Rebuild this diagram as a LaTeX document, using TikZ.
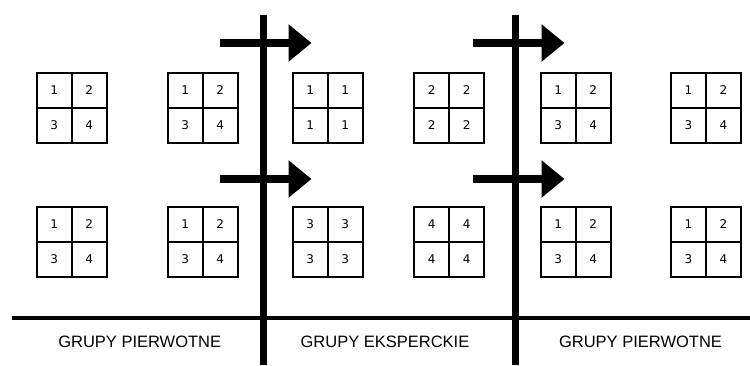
\documentclass[tikz,border=0pt]{standalone}
\usepackage{fontspec}
\setmainfont{Liberation Sans}
\newfontfamily\cyfry{DejaVu Sans}
\usepackage{tikz}
\usetikzlibrary{arrows.meta}

\tikzset{
  komorka/.style={draw, line width=2pt, minimum size=35pt, inner sep=0pt, font=\cyfry\fontsize{12}{12}\selectfont},
  slup/.style={line width=7pt},
  strzalka/.style={line width=8pt, -{Triangle[length=23pt,width=36pt]}},
  podpis/.style={font=\fontsize{16.5}{16.5}\selectfont}
}

\begin{document}
\begin{tikzpicture}[x=1pt,y=-1pt]
        \useasboundingbox (0,0) rectangle (750,365);

        % kwadraty z numerami
        \foreach \nazwa/\x/\y/\a/\b/\c/\d in {
                p1/36.7/72.7/1/2/3/4, p2/167.7/72.7/1/2/3/4,
                p3/36.7/206.7/1/2/3/4, p4/167.7/206.7/1/2/3/4,
                e1/292.7/72.7/1/1/1/1, e2/414.3/72.7/2/2/2/2,
                e3/292.7/206.7/3/3/3/3, e4/414.3/206.7/4/4/4/4,
                q1/540.7/72.7/1/2/3/4, q2/671/72.7/1/2/3/4,
                q3/540.7/206.7/1/2/3/4, q4/671/206.7/1/2/3/4}{
                \node[komorka] (\nazwa a) at (\x+17.5,\y+17.5) {\a};
                \node[komorka] (\nazwa b) at (\x+52.5,\y+17.5) {\b};
                \node[komorka] (\nazwa c) at (\x+17.5,\y+52.5) {\c};
                \node[komorka] (\nazwa d) at (\x+52.5,\y+52.5) {\d};
        }

        % linie podzialu
        \coordinate (L) at (11.7,318);
        \coordinate (R) at (750,318);
        \draw[line width=4pt] (L)--(R);

        \coordinate (S1g) at (263,15);
        \coordinate (S1d) at (263,365);
        \coordinate (S2g) at (515,15);
        \coordinate (S2d) at (515,365);
        \draw[slup] (S1g)--(S1d);
        \draw[slup] (S2g)--(S2d);

        % strzalki
        \coordinate (A1) at (220,43);
        \coordinate (A1k) at (311.5,43);
        \coordinate (A2) at (220,179);
        \coordinate (A2k) at (311.5,179);
        \coordinate (B1) at (473,43);
        \coordinate (B1k) at (564.5,43);
        \coordinate (B2) at (473,179);
        \coordinate (B2k) at (564.5,179);
        \draw[strzalka] (A1)--(A1k);
        \draw[strzalka] (A2)--(A2k);
        \draw[strzalka] (B1)--(B1k);
        \draw[strzalka] (B2)--(B2k);

        % podpisy
        \node[podpis] (pierwotne1) at (139.7,341.7) {GRUPY PIERWOTNE};
        \node[podpis] (eksperckie) at (385,341.7) {GRUPY EKSPERCKIE};
        \node[podpis] (pierwotne2) at (640.5,341.7) {GRUPY PIERWOTNE};
\end{tikzpicture}
\end{document}
